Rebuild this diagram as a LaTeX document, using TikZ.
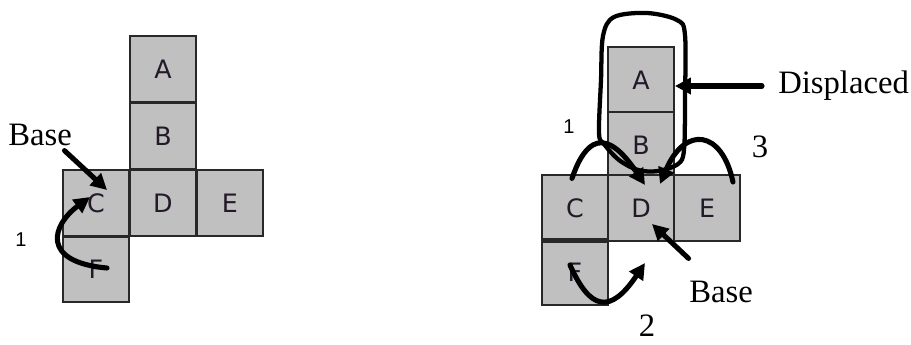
\documentclass[tikz,border=0pt]{standalone}
\usepackage{fontspec}
\setmainfont{Liberation Serif}
\newfontfamily\cellfont{DejaVu Sans}
\newfontfamily\numfont{Liberation Sans}
\usetikzlibrary{arrows.meta, calc}

\definecolor{cellgray}{RGB}{192,192,192}
\definecolor{celledge}{RGB}{40,40,40}
\definecolor{letter}{RGB}{35,25,40}

\begin{document}
\begin{tikzpicture}[
    x=0.75pt, y=-0.75pt,
    >={Triangle[length=12pt, width=12pt]},
    cell/.style={draw=celledge, fill=cellgray, line width=1.4pt,
                 minimum width=49.5pt, minimum height=49pt, inner sep=0pt,
                 font=\cellfont\fontsize{19}{19}\selectfont, text=letter},
    lbl/.style={font=\fontsize{24.5}{26}\selectfont},
    num/.style={font=\numfont\fontsize{15}{16}\selectfont},
    move/.style={->, line width=3.8pt, line cap=round},
    ring/.style={line width=3.2pt}
  ]
  \useasboundingbox (0,0) rectangle (911,344);

  % Left net
  \node[cell] (lA) at (163, 69) {A};
  \node[cell] (lB) at (163,136) {B};
  \node[cell] (lC) at (96, 203) {C};
  \node[cell] (lD) at (163,203) {D};
  \node[cell] (lE) at (230,203) {E};
  \node[cell] (lF) at (96, 269) {F};
  \draw[celledge, line width=2.6pt] (lC.south west) -- (lC.south east);

  \node[lbl] (baseL) at (40,135) {Base};
  \node[num] (oneL) at (21,240) {1};

  \draw[move] ([xshift=-9pt]baseL.south east) -- ($(lC.center)+(11,-13)$);
  \draw[move] ($(lF.center)+(11,-1)$)
    .. controls (40,262) and (52,225) .. ($(lC.center)+(-6,-6)$);

  % Right net
  \node[cell] (rA) at (641, 80) {A};
  \node[cell] (rB) at (641,145) {B};
  \node[cell] (rC) at (575,208) {C};
  \node[cell] (rD) at (641,208) {D};
  \node[cell] (rE) at (707,208) {E};
  \node[cell] (rF) at (575,272) {F};
  \draw[celledge, line width=2.6pt] (rC.south west) -- (rC.south east);

  % Displaced pair
  \draw[ring] plot[smooth cycle, tension=0.55] coordinates {
    (599,133) (601,80) (603,36) (614,17) (647,13) (677,20) (685,35)
    (685,100) (684,150) (678,164) (658,171) (638,170) (619,160) (604,144)};

  \node[lbl, anchor=west, inner sep=0pt] (disp) at (778,86) {Displaced};
  \draw[move] ([xshift=-12pt]disp.west) -- (disp.west -| rA.east);

  \node[num] (oneR) at (569,127) {1};
  \node[lbl] (threeR) at (760,147) {3};
  \node[lbl] (twoR) at (647,326) {2};
  \node[lbl] (baseR) at (721,292) {Base};

  \draw[move] ($(rC.north)+(-3,4)$)
    .. controls (585,140) and (605,125) .. ($(rD.center)+(4,-23)$);
  \draw[move] ($(rE.center)+(26,-26)$)
    .. controls (722,130) and (685,125) .. ($(rD.center)+(19,-24)$);
  \draw[move] ($(rF.center)+(-5,-7)$)
    .. controls (590,310) and (610,315) .. ($(rD.center)+(4,55)$);
  \draw[move] ($(baseR.north west)+(4,-18)$) -- ($(rD.center)+(11,16)$);
\end{tikzpicture}
\end{document}
